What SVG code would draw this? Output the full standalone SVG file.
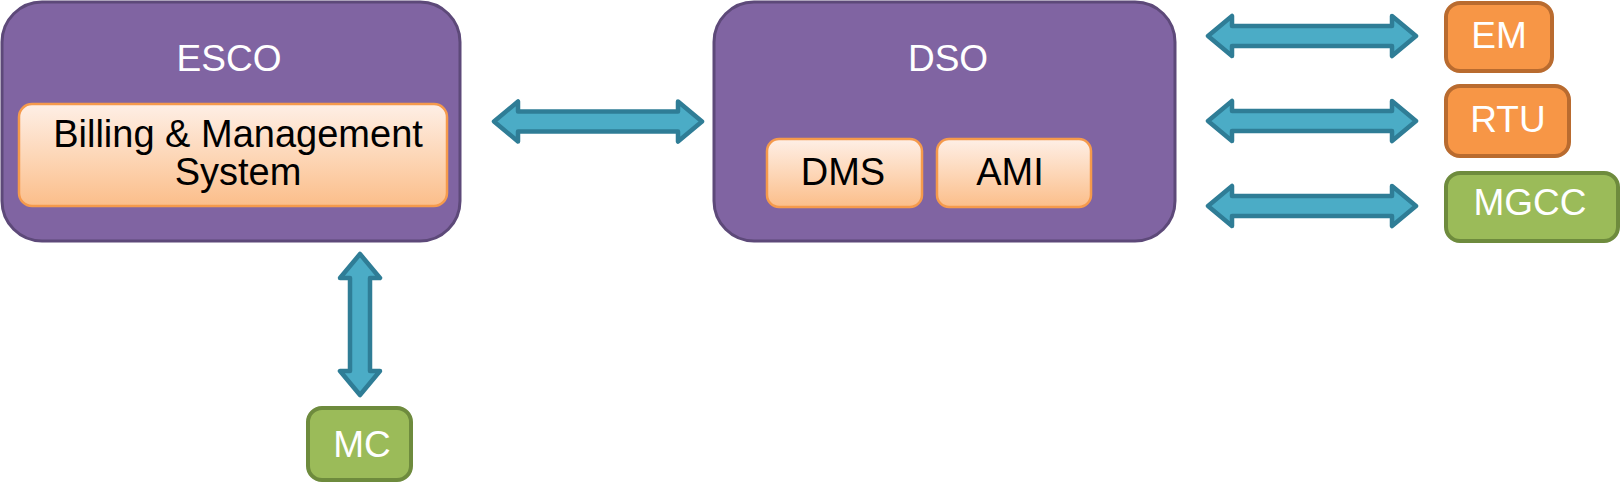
<svg xmlns="http://www.w3.org/2000/svg" width="1620" height="482" viewBox="0 0 1620 482">
<defs>
<linearGradient id="og" x1="0" y1="0" x2="0" y2="1">
<stop offset="0" stop-color="#FEEFE6"/>
<stop offset="0.5" stop-color="#FDD7B8"/>
<stop offset="1" stop-color="#FBBE8A"/>
</linearGradient>
<style>
.outer{fill:#8064A2;stroke:#5D4979;stroke-width:3}
.inner{fill:url(#og);stroke:#F59A4C;stroke-width:2.5}
.orange{fill:#F79646;stroke:#B96B2F;stroke-width:4}
.green{fill:#9BBB59;stroke:#6E8B3D;stroke-width:4}
.arrow{fill:#4BACC6;stroke:#2F7D96;stroke-width:4.5;stroke-linejoin:round}
.wt{font-family:"Liberation Sans",Arial,sans-serif;font-size:37px;fill:#FFFFFF;text-anchor:middle}
.bt{font-family:"Liberation Sans",Arial,sans-serif;font-size:38px;fill:#000000;text-anchor:middle}
</style>
</defs>
<g id="connectors">
<polygon class="arrow" points="494,121.5 518,101.5 518,111.5 678,111.5 678,101.5 702,121.5 678,141.5 678,131.5 518,131.5 518,141.5"/>
<polygon class="arrow" points="1208,36 1232,16 1232,26 1392,26 1392,16 1416,36 1392,56 1392,46 1232,46 1232,56"/>
<polygon class="arrow" points="1208,121 1232,101 1232,111 1392,111 1392,101 1416,121 1392,141 1392,131 1232,131 1232,141"/>
<polygon class="arrow" points="1208,206 1232,186 1232,196 1392,196 1392,186 1416,206 1392,226 1392,216 1232,216 1232,226"/>
<polygon class="arrow" points="360,254 380,278 370,278 370,371 380,371 360,395 340,371 350,371 350,278 340,278"/>
</g>
<g id="esco">
<rect class="outer" x="2" y="2" width="458" height="239" rx="40"/>
<text class="wt" x="229" y="71">ESCO</text>
</g>
<g id="billing">
<rect class="inner" x="19" y="104" width="428" height="102" rx="13"/>
<text class="bt" x="238" y="147">Billing &amp; Management</text>
<text class="bt" x="238" y="185">System</text>
</g>
<g id="dso">
<rect class="outer" x="714" y="2" width="461" height="239" rx="40"/>
<text class="wt" x="948" y="71">DSO</text>
</g>
<g id="dms">
<rect class="inner" x="767" y="139" width="155" height="68" rx="12"/>
<text class="bt" x="843" y="185">DMS</text>
</g>
<g id="ami">
<rect class="inner" x="937" y="139" width="154" height="68" rx="12"/>
<text class="bt" x="1010" y="185">AMI</text>
</g>
<g id="em">
<rect class="orange" x="1446" y="3" width="106" height="68" rx="14"/>
<text class="wt" x="1499" y="48">EM</text>
</g>
<g id="rtu">
<rect class="orange" x="1446" y="86" width="123" height="70" rx="14"/>
<text class="wt" x="1508" y="132">RTU</text>
</g>
<g id="mgcc">
<rect class="green" x="1446" y="173" width="172" height="68" rx="14"/>
<text class="wt" x="1530" y="215">MGCC</text>
</g>
<g id="mc">
<rect class="green" x="308" y="408" width="103" height="72" rx="14"/>
<text class="wt" x="362" y="457">MC</text>
</g>
</svg>
